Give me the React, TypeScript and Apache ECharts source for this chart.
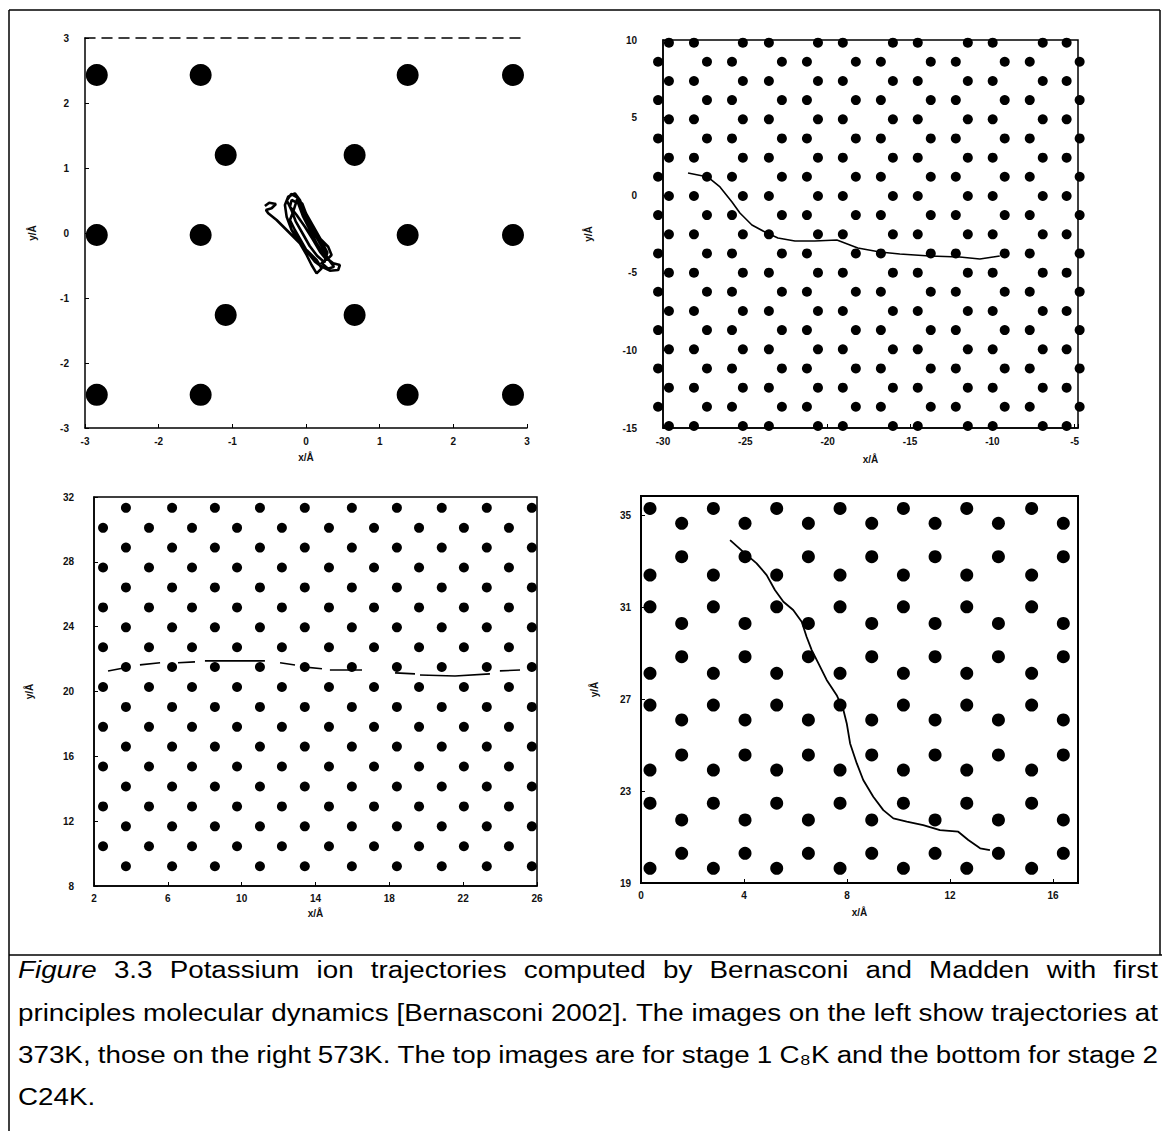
import React, { useEffect, useRef } from "react";
import * as echarts from "echarts";

// ---------- Top-left panel (stage 1, 373K) ----------
const tlAtomX = [-2.84, -1.43, 1.38, 2.81];
const tlAtomRowY = [2.43, -0.03, -2.49];
const tlInnerX = [-1.09, 0.66];
const tlInnerRowY = [1.2, -1.26];
const tlTrajectory: [number, number][] = [
  [-0.558, 0.415], [-0.499, 0.466], [-0.408, 0.446], [-0.467, 0.38], [-0.544, 0.354],
  [-0.513, 0.303], [-0.399, 0.2], [-0.263, 0.046], [-0.127, -0.108], [0.008, -0.262],
  [0.144, -0.415], [0.212, -0.543], [0.144, -0.62], [0.076, -0.492], [0.008, -0.338],
  [-0.083, -0.158], [-0.195, 0.046], [-0.263, 0.251], [-0.286, 0.431], [-0.242, 0.558],
  [-0.151, 0.611], [-0.083, 0.508], [-0.015, 0.303], [0.076, 0.097], [0.189, -0.082],
  [0.301, -0.211], [0.347, -0.338], [0.28, -0.415], [0.189, -0.288], [0.098, -0.108],
  [-0.015, 0.097], [-0.127, 0.277], [-0.218, 0.405], [-0.195, 0.508], [-0.106, 0.457],
  [-0.038, 0.251], [0.053, 0.046], [0.144, -0.158], [0.256, -0.365], [0.369, -0.466],
  [0.46, -0.492], [0.437, -0.569], [0.324, -0.58], [0.212, -0.518], [0.121, -0.442],
  [0.03, -0.312], [-0.06, -0.134], [-0.151, 0.046], [-0.218, 0.2], [-0.174, 0.328],
  [-0.12, 0.52], [-0.05, 0.45], [0.0, 0.3], [0.1, 0.1], [0.2, -0.1], [0.29, -0.3],
  [0.25, -0.45], [0.15, -0.35], [0.05, -0.2], [-0.05, 0.0], [-0.14, 0.18], [-0.2, 0.36],
  [-0.26, 0.5], [-0.2, 0.6], [-0.12, 0.55], [-0.07, 0.38], [0.02, 0.18], [0.12, -0.02],
  [0.22, -0.22], [0.3, -0.4], [0.38, -0.52], [0.3, -0.55], [0.2, -0.45],
];

// ---------- Top-right panel (stage 1, 573K) ----------
const trRowY = [9.83, 8.6, 7.36, 6.13, 4.89, 3.66, 2.42, 1.19, -0.05, -1.28, -2.52, -3.75, -4.99, -6.22, -7.46, -8.69, -9.93, -11.16, -12.4, -13.63, -14.87];
const trRowAX = [-29.64, -28.12, -25.15, -23.57, -20.59, -19.08, -16.04, -14.53, -11.49, -9.98, -6.94, -5.49];
const trRowBX = [-30.3, -27.33, -25.81, -22.78, -21.26, -18.29, -16.77, -13.74, -12.22, -9.25, -7.73, -4.7];
const trTrajectory: [number, number][] = [
  [-28.48, 1.43], [-27.27, 1.17], [-26.54, 0.53], [-25.81, -0.44], [-25.33, -1.15],
  [-24.6, -1.92], [-23.81, -2.37], [-23.02, -2.76], [-21.99, -2.95], [-20.78, -2.95],
  [-19.44, -2.89], [-18.17, -3.4], [-16.83, -3.66], [-15.62, -3.79], [-13.8, -3.92],
  [-11.98, -3.98], [-10.76, -4.11], [-9.55, -3.92],
];

// ---------- Bottom-left panel (stage 2, 373K) ----------
const blRowY = [31.33, 30.1, 28.88, 27.65, 26.42, 25.19, 23.96, 22.73, 21.51, 20.28, 19.05, 17.82, 16.6, 15.37, 14.14, 12.91, 11.68, 10.45, 9.22];
const blRowAX = [3.73, 6.23, 8.55, 10.99, 13.42, 15.97, 18.41, 20.84, 23.28, 25.72];
const blRowBX = [2.49, 4.98, 7.31, 9.75, 12.18, 14.73, 17.17, 19.61, 22.04, 24.48];
const blTrajectorySegments: [number, number][][] = [
  [[2.76, 21.27], [3.68, 21.46]],
  [[4.49, 21.64], [5.58, 21.77]],
  [[6.55, 21.77], [7.47, 21.83]],
  [[8.01, 21.89], [9.64, 21.89], [11.26, 21.89]],
  [[12.08, 21.77], [12.89, 21.64]],
  [[13.32, 21.52], [14.35, 21.4]],
  [[14.78, 21.33], [16.52, 21.33]],
  [[18.31, 21.15], [19.39, 21.09]],
  [[19.66, 21.02], [21.56, 20.96], [23.45, 21.09]],
  [[23.99, 21.27], [25.08, 21.33]],
];

// ---------- Bottom-right panel (stage 2, 573K) ----------
const brColAX = [0.35, 2.81, 5.27, 7.73, 10.19, 12.65, 15.17];
const brRowAY = [35.29, 32.39, 31.01, 28.12, 26.74, 23.91, 22.47, 19.64];
const brColBX = [1.58, 4.04, 6.5, 8.96, 11.42, 13.88, 16.4];
const brRowBY = [34.64, 33.19, 30.29, 28.84, 26.09, 24.57, 21.74, 20.29];
const brTrajectory: [number, number][] = [
  [3.46, 33.91], [3.97, 33.4], [4.49, 32.9], [4.88, 32.39], [5.2, 31.74], [5.53, 31.23],
  [5.91, 30.87], [6.24, 30.36], [6.43, 29.71], [6.63, 29.13], [6.89, 28.55], [7.21, 27.83],
  [7.6, 27.17], [7.86, 26.52], [7.99, 25.94], [8.12, 25.07], [8.38, 24.2], [8.63, 23.48],
  [9.02, 22.75], [9.41, 22.17], [9.8, 21.81], [10.32, 21.67], [10.96, 21.52], [11.61, 21.3],
  [12.32, 21.23], [12.71, 20.87], [13.17, 20.51], [13.55, 20.43],
];

// ---------- Caption ----------
const captionLines = [
  "Figure 3.3 Potassium ion trajectories computed by Bernasconi and Madden with first",
  "principles molecular dynamics [Bernasconi 2002]. The images on the left show trajectories at",
  "373K, those on the right 573K. The top images are for stage 1 C\u2088K and the bottom for stage 2",
  "C24K.",
];
const captionJustify = [true, true, true, false];
const italicWords = ["Figure"];

const FONT = "'Liberation Sans', Arial, sans-serif";
const CAP_SIZE = 24;

function measure(text: string, italic: boolean): number {
  const ctx = document.createElement("canvas").getContext("2d")!;
  ctx.font = `${italic ? "italic " : ""}${CAP_SIZE}px ${FONT}`;
  return ctx.measureText(text).width;
}

const labelStyle = { fontFamily: FONT, fontWeight: "bold" as const, fontSize: 10, color: "#111" };
const nameStyle = { fontFamily: FONT, fontWeight: "bold" as const, fontSize: 10, color: "#111" };

function fmtEvery(step: number, start: number) {
  return (v: number) => {
    const k = (v - start) / step;
    return Math.abs(k - Math.round(k)) < 1e-6 ? String(Math.round(v)) : "";
  };
}

export default function App() {
  const ref = useRef<HTMLDivElement>(null);
  useEffect(() => {
    if (!ref.current) return;
    const chart = echarts.init(ref.current, undefined, { renderer: "svg" });

    const tlAtoms = [
      ...tlAtomRowY.flatMap((y) => tlAtomX.map((x) => [x, y])),
      ...tlInnerRowY.flatMap((y) => tlInnerX.map((x) => [x, y])),
    ];
    const trAtoms = trRowY.flatMap((y, i) => (i % 2 === 0 ? trRowAX : trRowBX).map((x) => [x, y]));
    const blAtoms = blRowY.flatMap((y, i) => (i % 2 === 0 ? blRowAX : blRowBX).map((x) => [x, y]));
    const brAtoms = [
      ...brColAX.flatMap((x) => brRowAY.map((y) => [x, y])),
      ...brColBX.flatMap((x) => brRowBY.map((y) => [x, y])),
    ];

    // caption layout: line 2 sets the horizontal scale, lines 1-3 are justified
    const left = 18;
    const right = 1158;
    const natural2 = measure(captionLines[1], false);
    const f = (right - left) / natural2;
    const lineY = [970, 1013, 1055, 1097];
    const captionGraphics: any[] = [];
    captionLines.forEach((line, li) => {
      const words = line.split(" ");
      const isItalic = (w: string) => italicWords.includes(w) && li === 0;
      const widths = words.map((w) => measure(w, isItalic(w)) * f);
      const total = widths.reduce((a, b) => a + b, 0);
      const space = measure(" ", false) * f;
      const gap = captionJustify[li] && words.length > 1 ? (right - left - total) / (words.length - 1) : space;
      let x = left;
      words.forEach((w, wi) => {
        captionGraphics.push({
          type: "text",
          x,
          y: lineY[li],
          scaleX: f,
          style: {
            text: w,
            fontFamily: FONT,
            fontSize: CAP_SIZE,
            fontStyle: isItalic(w) ? "italic" : "normal",
            fill: "#000",
            align: "left",
            verticalAlign: "middle",
          },
        });
        x += widths[wi] + gap;
      });
    });

    const borderLine = (x1: number, y1: number, x2: number, y2: number, w = 1.5) => ({
      type: "line",
      shape: { x1, y1, x2, y2 },
      style: { stroke: "#000", lineWidth: w },
      silent: true,
    });

    const axisBase = {
      splitLine: { show: false },
      axisLine: { show: true, onZero: false, lineStyle: { color: "#000", width: 1.5 } },
      axisTick: { show: true, inside: true, length: 4, lineStyle: { color: "#000" } },
      nameLocation: "middle" as const,
      nameTextStyle: nameStyle,
    };

    const dot = { color: "#000", opacity: 1 };

    const option: any = {
      animation: false,
      backgroundColor: "#fff",
      grid: [
        { left: 85, top: 38, width: 442, height: 390, show: false },
        { left: 663, top: 40, width: 415, height: 388, show: true, borderColor: "#000", borderWidth: 1.5 },
        { left: 94, top: 497, width: 443, height: 389, show: true, borderColor: "#000", borderWidth: 1.5 },
        { left: 641, top: 496, width: 437, height: 387, show: true, borderColor: "#000", borderWidth: 2 },
      ],
      xAxis: [
        { ...axisBase, type: "value", gridIndex: 0, min: -3, max: 3, interval: 1, name: "x/Å", nameGap: 24,
          axisLabel: { ...labelStyle, margin: 8 } },
        { ...axisBase, type: "value", gridIndex: 1, min: -30, max: -4.8, interval: 5, name: "x/Å", nameGap: 26,
          axisLabel: { ...labelStyle, margin: 8, formatter: fmtEvery(5, -30) } },
        { ...axisBase, type: "value", gridIndex: 2, min: 2, max: 26, interval: 4, name: "x/Å", nameGap: 22,
          axisLabel: { ...labelStyle, margin: 7 } },
        { ...axisBase, type: "value", gridIndex: 3, min: 0, max: 16.97, interval: 4, name: "x/Å", nameGap: 24,
          axisLabel: { ...labelStyle, margin: 7, formatter: fmtEvery(4, 0) } },
        { type: "value", gridIndex: 0, position: "top", min: -3, max: 3, interval: 1,
          splitLine: { show: false }, axisLabel: { show: false }, axisTick: { show: false },
          axisLine: { show: true, onZero: false, lineStyle: { color: "#000", width: 1.5, type: [10, 7] } } },
      ],
      yAxis: [
        { ...axisBase, type: "value", gridIndex: 0, min: -3, max: 3, interval: 1, name: "y/Å", nameGap: 48,
          nameRotate: 90, axisLabel: { ...labelStyle, margin: 16 } },
        { ...axisBase, type: "value", gridIndex: 1, min: -15, max: 10, interval: 5, name: "y/Å", nameGap: 70,
          nameRotate: 90, axisLabel: { ...labelStyle, margin: 26 } },
        { ...axisBase, type: "value", gridIndex: 2, min: 8, max: 32, interval: 4, name: "y/Å", nameGap: 60,
          nameRotate: 90, axisLabel: { ...labelStyle, margin: 20 } },
        { ...axisBase, type: "value", gridIndex: 3, min: 19, max: 35.83, interval: 4, name: "y/Å", nameGap: 42,
          nameRotate: 90, axisLabel: { ...labelStyle, margin: 10, formatter: fmtEvery(4, 19) } },
      ],
      series: [
        { type: "scatter", xAxisIndex: 0, yAxisIndex: 0, data: tlAtoms, symbolSize: 22, clip: false,
          itemStyle: dot, silent: true },
        { type: "line", xAxisIndex: 0, yAxisIndex: 0, data: tlTrajectory, showSymbol: false, symbol: "none",
          lineStyle: { color: "#000", width: 2.6 }, silent: true },
        { type: "scatter", xAxisIndex: 1, yAxisIndex: 1, data: trAtoms, symbolSize: 10, clip: false,
          itemStyle: dot, silent: true },
        { type: "line", xAxisIndex: 1, yAxisIndex: 1, data: trTrajectory, showSymbol: false, symbol: "none",
          lineStyle: { color: "#000", width: 1.6 }, silent: true },
        { type: "scatter", xAxisIndex: 2, yAxisIndex: 2, data: blAtoms, symbolSize: 10, clip: false,
          itemStyle: dot, silent: true },
        ...blTrajectorySegments.map((seg) => ({
          type: "line", xAxisIndex: 2, yAxisIndex: 2, data: seg, showSymbol: false, symbol: "none",
          lineStyle: { color: "#000", width: 1.6 }, silent: true,
        })),
        { type: "scatter", xAxisIndex: 3, yAxisIndex: 3, data: brAtoms, symbolSize: 13, clip: false,
          itemStyle: dot, silent: true },
        { type: "line", xAxisIndex: 3, yAxisIndex: 3, data: brTrajectory, showSymbol: false, symbol: "none",
          lineStyle: { color: "#000", width: 1.8 }, silent: true },
      ],
      graphic: [
        borderLine(9, 10, 9, 1131),
        borderLine(9, 10, 1160, 10),
        borderLine(1160, 10, 1160, 955),
        borderLine(9, 955, 1162, 955),
        ...captionGraphics,
      ],
    };
    chart.setOption(option);
    return () => chart.dispose();
  }, []);

  return (
    <div
      ref={ref}
      style={{ position: "absolute", left: 0, top: 0, width: 1162, height: 1131, background: "#fff" }}
    />
  );
}
